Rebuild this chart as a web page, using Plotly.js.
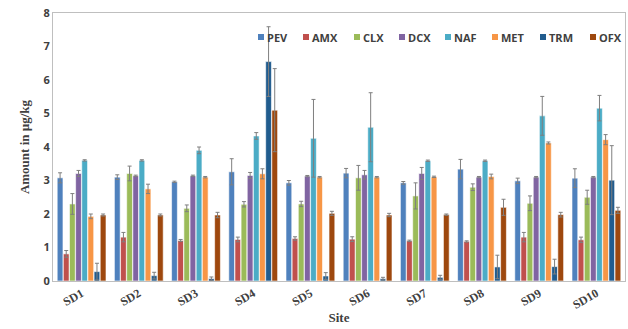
<!DOCTYPE html>
<html>
<head>
<meta charset="utf-8">
<script src="https://cdn.plot.ly/plotly-3.0.1.min.js"></script>
<style>html,body{margin:0;padding:0;background:#fff;}#chart{width:628px;height:329px;}</style>
</head>
<body>
<div id="chart"></div>
<script>
const sites = ["SD1","SD2","SD3","SD4","SD5","SD6","SD7","SD8","SD9","SD10"];
const seriesNames = ["PEV","AMX","CLX","DCX","NAF","MET","TRM","OFX"];
const colors = ["#4F81BD","#C0504D","#9BBB59","#8064A2","#4BACC6","#F79646","#215C8E","#9E480E"];

const PEV = [3.08,3.10,2.96,3.26,2.93,3.22,2.93,3.34,2.99,3.07];
const AMX = [0.81,1.31,1.21,1.24,1.27,1.25,1.20,1.18,1.31,1.23];
const CLX = [2.30,3.21,2.17,2.29,2.30,3.08,2.54,2.80,2.32,2.50];
const DCX = [3.21,3.14,3.14,3.15,3.13,3.17,3.21,3.10,3.10,3.10];
const NAF = [3.60,3.60,3.90,4.33,4.26,4.59,3.59,3.59,4.93,5.16];
const MET = [1.93,2.75,3.10,3.20,3.10,3.10,3.11,3.12,4.12,4.22];
const TRM = [0.28,0.16,0.07,6.55,0.15,0.07,0.11,0.42,0.43,3.01];
const OFX = [1.97,1.97,1.97,5.10,2.02,1.97,1.98,2.20,1.98,2.11];

const PEV_err = [0.15,0.07,0.02,0.39,0.07,0.14,0.04,0.29,0.08,0.28];
const AMX_err = [0.10,0.14,0.03,0.07,0.05,0.07,0.02,0.02,0.14,0.08];
const CLX_err = [0.31,0.22,0.10,0.08,0.08,0.37,0.39,0.10,0.22,0.21];
const DCX_err = [0.09,0.02,0.02,0.09,0.02,0.13,0.18,0.02,0.02,0.02];
const NAF_err = [0.02,0.02,0.10,0.10,1.16,1.03,0.02,0.02,0.58,0.38];
const MET_err = [0.07,0.14,0.02,0.15,0.02,0.02,0.02,0.07,0.03,0.15];
const TRM_err = [0.25,0.10,0.05,1.04,0.10,0.04,0.06,0.35,0.22,1.03];
const OFX_err = [0.03,0.03,0.08,1.24,0.06,0.05,0.02,0.24,0.07,0.09];

const values = [PEV,AMX,CLX,DCX,NAF,MET,TRM,OFX];
const errs = [PEV_err,AMX_err,CLX_err,DCX_err,NAF_err,MET_err,TRM_err,OFX_err];

// legend entry left positions in pixels
const legendX = [258,303,354,399,445,492,540,590];

const W = 628, H = 329, ML = 53, MR = 3, MT = 13, MB = 48;
const pw = W - ML - MR, ph = H - MT - MB;
const legendYpx = 37;
const toPX = px => (px - ML) / pw;
const toPY = py => (H - MB - py) / ph;

const traces = seriesNames.map((n,i)=>({
  type:'bar', name:n, x:sites, y:values[i],
  marker:{color:colors[i], line:{color:'#ffffff', width:0.6}},
  error_y:{type:'data', array:errs[i], visible:true, color:'#7f7f7f', thickness:1, width:2}
}));

const shapes = seriesNames.map((n,i)=>({
  type:'rect', xref:'paper', yref:'paper', layer:'above',
  x0:toPX(legendX[i]), x1:toPX(legendX[i]+6),
  y0:toPY(legendYpx+3), y1:toPY(legendYpx-3),
  fillcolor:colors[i], line:{width:0}
}));
const annotations = seriesNames.map((n,i)=>({
  xref:'paper', yref:'paper', x:toPX(legendX[i]+7), y:toPY(legendYpx),
  xanchor:'left', yanchor:'middle', showarrow:false, text:'<b>'+n+'</b>',
  font:{family:'"Open Sans", Arial, sans-serif', size:11, color:'#404040'}
}));

const layout = {
  width:W, height:H,
  margin:{l:ML,r:MR,t:MT,b:MB},
  paper_bgcolor:'#fff', plot_bgcolor:'#fff',
  barmode:'group', bargap:0.14, bargroupgap:0.06,
  showlegend:false,
  shapes:shapes, annotations:annotations,
  xaxis:{
    title:{text:'<b>Site</b>', font:{family:'"Liberation Serif", "Times New Roman", serif', size:13, color:'#404040'}, standoff:2},
    tickangle:-30,
    tickfont:{family:'"Liberation Serif", "Times New Roman", serif', size:12, color:'#404040', weight:'bold'},
    showline:true, linecolor:'#bfbfbf', linewidth:1, mirror:true,
    ticks:'', showgrid:false
  },
  yaxis:{
    title:{text:'<b>Amount in µg/kg</b>', font:{family:'"Liberation Serif", "Times New Roman", serif', size:13, color:'#404040'}, standoff:10},
    range:[0,8], dtick:1,
    tickfont:{family:'"Open Sans", Arial, sans-serif', size:11, color:'#404040', weight:'bold'},
    showline:true, linecolor:'#bfbfbf', linewidth:1, mirror:true,
    ticks:'', showgrid:false, zeroline:false
  }
};

Plotly.newPlot('chart', traces, layout, {displayModeBar:false, staticPlot:true});
</script>
</body>
</html>
